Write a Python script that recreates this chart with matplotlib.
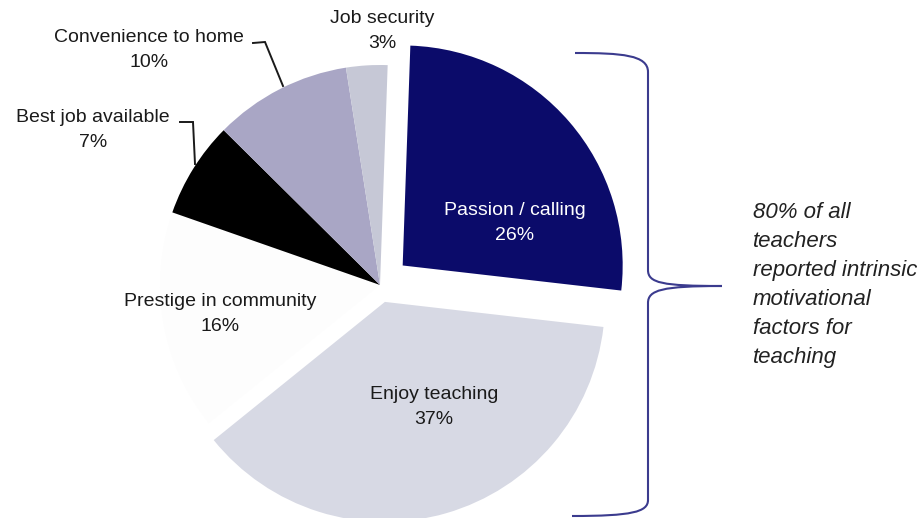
import matplotlib
matplotlib.use("Agg")
import matplotlib.pyplot as plt
from matplotlib.path import Path
from matplotlib.patches import PathPatch

# ---- data ----
categories = ["Passion / calling", "Enjoy teaching", "Prestige in community",
              "Best job available", "Convenience to home", "Job security"]
values = [26, 37, 16, 7, 10, 3]
colors = ["#0b0b6a", "#d7d9e4", "#fdfdfd", "#000000", "#a9a6c5", "#c6c8d6"]
explode_frac = [0.136, 0.08, 0, 0, 0, 0]
note_text = "80% of all\nteachers\nreported intrinsic\nmotivational\nfactors for\nteaching"

W, H = 917, 518
R = 220
plt.rcParams['font.family'] = ['Liberation Sans', 'DejaVu Sans']

fig = plt.figure(figsize=(W / 100, H / 100), dpi=100)
ax = fig.add_axes([0, 0, 1, 1])


def P(x, y):
    """pixel (y down) -> data coords (y up)"""
    return x, H - y


ax.pie(values, colors=colors, explode=[e * R for e in explode_frac],
       startangle=88, counterclock=False, center=P(380, 285), radius=R,
       wedgeprops=dict(linewidth=0))
ax.set_xlim(0, W)
ax.set_ylim(0, H)
ax.set_aspect('equal')
ax.axis('off')

label_color = "#1a1a1a"
fs = 14
ls = 1.58

def lab(i, x, y, color=label_color):
    ax.text(*P(x, y), f"{categories[i]}\n{values[i]}%", ha='center', va='center',
            multialignment='center', fontsize=fs, color=color, linespacing=ls)

lab(0, 515, 223, color="white")
lab(1, 434, 407)
lab(2, 220, 314)
lab(3, 93, 130)
lab(4, 149, 50)
lab(5, 382, 31)

# leader lines
for pts in ([(253, 43), (265, 42), (283, 86)],
            [(180, 122), (193, 122), (195, 164)]):
    xs, ys = zip(*[P(*p) for p in pts])
    ax.plot(xs, ys, color=label_color, lw=1.4, solid_joinstyle='miter')

# bracket
verts = [P(575, 53),
         P(622, 53), P(648, 55), P(648, 72),
         P(648, 270),
         P(648, 283), P(662, 286), P(722, 286),
         P(662, 286), P(648, 290), P(648, 303),
         P(648, 500),
         P(648, 512), P(632, 516), P(572, 516)]
codes = [Path.MOVETO,
         Path.CURVE4, Path.CURVE4, Path.CURVE4,
         Path.LINETO,
         Path.CURVE4, Path.CURVE4, Path.CURVE4,
         Path.CURVE4, Path.CURVE4, Path.CURVE4,
         Path.LINETO,
         Path.CURVE4, Path.CURVE4, Path.CURVE4]
ax.add_patch(PathPatch(Path(verts, codes), facecolor='none',
                       edgecolor='#3b3b8e', lw=1.5))

ax.text(*P(753, 202), note_text, ha='left', va='top', fontsize=16,
        style='italic', color='#222222', linespacing=1.5)

fig.savefig("out.png", dpi=100)
